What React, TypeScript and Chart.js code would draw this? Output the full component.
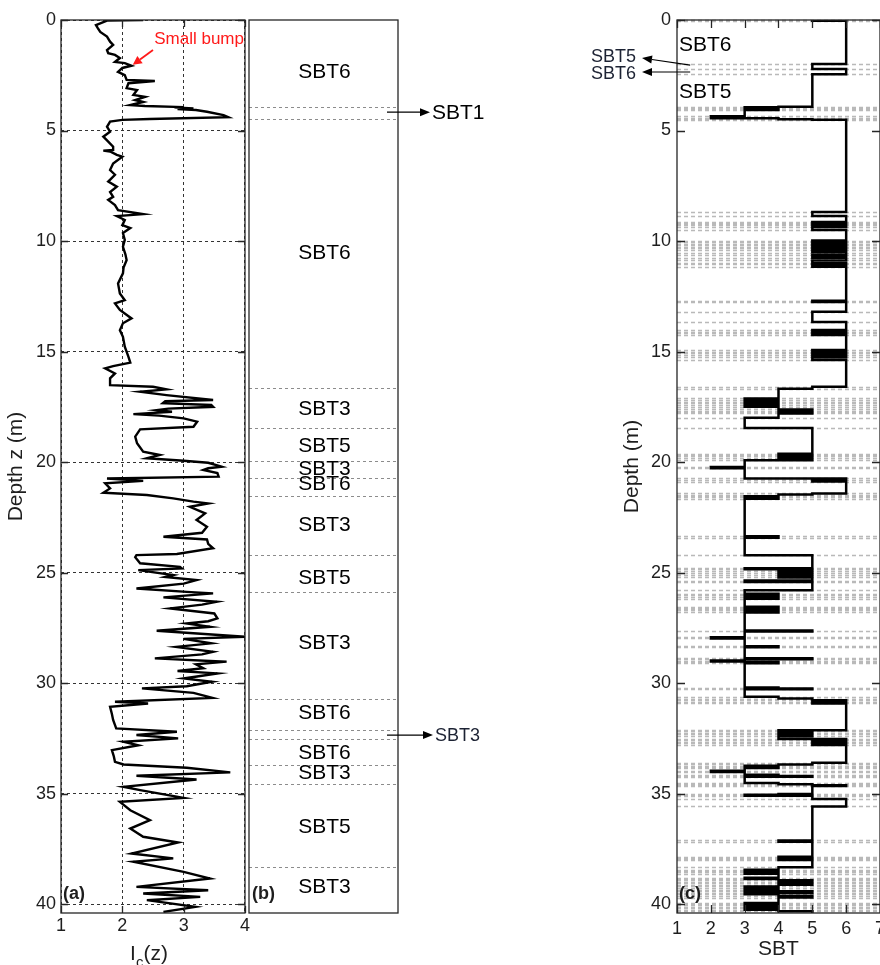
import React, { useEffect, useRef } from "react";
import { Chart, registerables } from "chart.js";

Chart.register(...registerables);

const FONT = "'Liberation Sans', Arial, Helvetica, sans-serif";
const DEPTH_MAX = 40.4;

// ---------- panel (a): Ic(z) profile ----------
const icDepth = [
  0.00, 0.03, 0.23, 0.37, 0.54, 0.75, 0.98, 1.13, 1.36, 1.50,
  1.58, 1.72, 1.90, 1.95, 2.07, 2.17, 2.35, 2.49, 2.71, 2.76,
  2.86, 3.08, 3.17, 3.39, 3.48, 3.62, 3.71, 3.85, 3.89, 3.94,
  3.96, 4.00, 4.03, 4.07, 4.15, 4.30, 4.40, 4.48, 4.52, 4.60,
  4.83, 5.05, 5.28, 5.50, 5.73, 5.88, 5.91, 5.95, 6.10, 6.18,
  6.49, 6.79, 7.00, 7.31, 7.54, 7.78, 8.00, 8.14, 8.37, 8.60,
  8.78, 8.87, 9.05, 9.28, 9.41, 9.64, 9.95, 10.26, 10.60, 10.86,
  11.20, 11.46, 11.92, 12.37, 12.67, 12.82, 13.12, 13.50, 13.72, 14.03,
  14.33, 14.78, 15.24, 15.50, 15.66, 15.76, 15.99, 16.21, 16.52, 16.59,
  16.71, 16.82, 16.97, 17.19, 17.25, 17.34, 17.42, 17.50, 17.58, 17.65,
  17.72, 17.83, 17.90, 18.02, 18.17, 18.40, 18.52, 18.85, 19.15, 19.53,
  19.68, 19.83, 19.94, 20.03, 20.21, 20.28, 20.36, 20.50, 20.66, 20.74,
  20.85, 20.96, 21.19, 21.39, 21.49, 21.64, 21.79, 21.87, 22.02, 22.32,
  22.62, 22.93, 23.20, 23.38, 23.50, 23.70, 23.90, 24.16, 24.21, 24.30,
  24.58, 24.74, 24.81, 24.89, 25.11, 25.20, 25.34, 25.50, 25.72, 25.87,
  25.94, 26.12, 26.32, 26.45, 26.62, 26.85, 27.07, 27.20, 27.30, 27.45,
  27.63, 27.90, 28.00, 28.20, 28.36, 28.58, 28.70, 28.88, 29.03, 29.15,
  29.33, 29.45, 29.56, 29.79, 29.94, 30.14, 30.24, 30.44, 30.67, 30.84,
  30.92, 31.07, 31.40, 31.67, 32.05, 32.20, 32.35, 32.50, 32.65, 32.81,
  33.03, 33.30, 33.56, 33.68, 33.83, 34.04, 34.19, 34.36, 34.69, 34.84,
  35.19, 35.37, 35.75, 36.20, 36.58, 36.95, 37.21, 37.71, 37.93, 38.08,
  38.54, 38.84, 39.22, 39.37, 39.52, 39.67, 39.82, 40.12, 40.35,
];
const icValue = [
  2.34, 1.75, 1.57, 1.60, 1.64, 1.75, 1.80, 1.85, 1.75, 1.77,
  1.88, 1.96, 1.88, 2.04, 2.15, 2.00, 1.93, 2.04, 2.07, 2.53,
  2.10, 2.07, 2.24, 2.18, 2.37, 2.21, 2.34, 2.13, 2.37, 3.00,
  2.85, 3.16, 2.90, 3.20, 3.38, 3.65, 3.73, 2.45, 2.00, 1.80,
  1.75, 1.80, 1.69, 1.77, 1.85, 1.85, 1.69, 1.80, 1.91, 2.00,
  1.85, 1.80, 1.88, 1.77, 1.91, 1.80, 1.85, 1.77, 1.88, 1.93,
  2.34, 1.91, 2.04, 2.00, 2.13, 2.01, 2.04, 2.01, 2.05, 2.07,
  2.02, 2.01, 1.93, 1.96, 2.04, 1.88, 1.96, 2.15, 2.01, 1.96,
  2.01, 2.04, 2.10, 2.13, 1.85, 1.72, 1.88, 1.80, 1.80, 2.50,
  2.72, 2.29, 2.72, 3.48, 2.70, 2.66, 3.45, 3.48, 2.75, 2.56,
  2.81, 2.18, 2.60, 3.00, 3.22, 3.16, 2.29, 2.21, 2.24, 2.34,
  2.61, 2.40, 3.00, 3.40, 3.62, 3.40, 3.32, 3.55, 3.57, 1.75,
  2.34, 1.72, 1.80, 1.69, 2.40, 2.83, 3.16, 3.40, 3.10, 3.35,
  3.21, 3.38, 3.30, 2.67, 3.38, 3.40, 3.48, 2.89, 2.23, 2.21,
  2.29, 2.94, 2.97, 2.26, 2.83, 2.70, 3.21, 3.00, 2.23, 3.05,
  3.48, 2.67, 3.54, 3.30, 2.78, 3.50, 3.55, 3.40, 3.05, 3.43,
  2.56, 4.00, 3.00, 3.45, 2.88, 3.48, 3.30, 2.53, 3.70, 3.20,
  3.32, 2.90, 3.55, 3.00, 3.46, 3.05, 2.32, 3.16, 3.47, 1.88,
  2.42, 1.80, 1.83, 1.85, 1.90, 2.89, 2.23, 2.91, 2.02, 2.26,
  1.83, 1.86, 1.88, 2.02, 3.05, 3.76, 2.23, 3.21, 2.02, 2.29,
  3.00, 1.96, 2.13, 2.45, 2.13, 2.34, 2.91, 2.15, 2.83, 2.18,
  3.00, 3.43, 2.23, 3.40, 2.34, 3.27, 2.40, 3.19, 2.67,
];
const icTicks = [1, 2, 3, 4];
const depthTicks = [0, 5, 10, 15, 20, 25, 30, 35, 40];

// ---------- panel (b): layers ----------
const layerBounds = [3.92, 4.48, 16.64, 18.48, 19.94, 20.74, 21.53, 24.21, 25.87, 30.74, 32.13, 32.53, 33.71, 34.58, 38.31];
const layerLabels = ["SBT6", "SBT6", "SBT3", "SBT5", "SBT3", "SBT6", "SBT3", "SBT5", "SBT3", "SBT6", "SBT6", "SBT3", "SBT5", "SBT3"];
const layerLabelDepth = [2.35, 10.54, 17.6, 19.3, 20.3, 21.0, 22.85, 25.25, 28.2, 31.36, 33.17, 34.07, 36.5, 39.23];

// ---------- panel (c): SBT step profile ----------
const sbtStart = [
  0.00, 0.03, 1.99, 2.22, 2.45, 3.92, 3.95, 3.98, 4.01, 4.04, 4.07, 4.36, 4.45, 4.49, 4.51,
  8.69, 8.87, 9.14, 9.19, 9.24, 9.29, 9.37, 9.50,
  9.98, 10.05, 10.12, 10.19, 10.26, 10.33, 10.40, 10.52, 10.64, 10.76, 10.88, 11.00, 11.06, 11.16,
  12.70, 12.76, 13.20, 13.66, 14.03, 14.10, 14.17, 14.25, 14.93, 15.00, 15.06, 15.14, 15.26, 15.38,
  16.59, 16.68, 17.12, 17.17, 17.27, 17.32, 17.42, 17.50, 17.62, 17.68, 17.74, 17.80, 18.00, 18.46,
  19.62, 19.68, 19.74, 19.80, 19.92, 20.22, 20.28, 20.74, 20.82, 20.88, 21.42, 21.47, 21.55, 21.60, 21.66,
  23.36, 23.42, 24.21, 24.80, 24.85, 24.95, 25.02, 25.12, 25.22, 25.36, 25.42, 25.80, 25.96, 26.02, 26.12, 26.18,
  26.55, 26.60, 26.65, 26.70, 26.76, 26.80, 27.62, 27.66, 27.93, 27.98, 28.33, 28.38, 28.88, 28.92, 28.98, 29.02, 29.05, 29.10,
  30.20, 30.24, 30.28, 30.62, 30.70, 30.78, 30.84, 30.92, 32.13, 32.18, 32.25, 32.32, 32.40, 32.53, 32.58, 32.65, 32.72, 32.80,
  33.60, 33.68, 33.74, 33.78, 33.84, 33.96, 34.02, 34.15, 34.20, 34.24, 34.52, 34.58, 34.62, 34.66, 35.02, 35.05, 35.10, 35.24, 35.58,
  37.12, 37.18, 37.85, 37.90, 37.95, 38.00, 38.33, 38.44, 38.50, 38.55, 38.62, 38.80, 38.86, 38.92, 38.98, 39.04, 39.12, 39.20, 39.28, 39.34, 39.42, 39.48, 39.55, 39.62, 39.70,
  39.95, 40.00, 40.05, 40.12, 40.18, 40.25, 40.32,
];
const sbtClass = [
  5, 6, 5, 6, 5, 4, 3, 4, 3, 4, 3, 2, 4, 5, 6,
  5, 6, 5, 6, 5, 6, 5, 6,
  5, 6, 5, 6, 5, 6, 5, 6, 5, 6, 5, 6, 5, 6,
  5, 6, 5, 6, 5, 6, 5, 6, 5, 6, 5, 6, 5, 6,
  5, 4, 3, 4, 3, 4, 3, 4, 5, 4, 5, 4, 3, 5,
  4, 5, 4, 5, 3, 2, 3, 6, 5, 6, 5, 4, 3, 4, 3,
  4, 3, 5, 3, 5, 4, 5, 4, 5, 3, 5, 3, 4, 3, 4, 3,
  4, 3, 4, 3, 4, 3, 5, 3, 2, 3, 4, 3, 5, 3, 2, 3, 4, 3,
  4, 5, 3, 4, 5, 6, 5, 6, 4, 5, 4, 5, 4, 6, 5, 6, 5, 6,
  5, 4, 3, 4, 3, 2, 3, 4, 5, 3, 4, 5, 6, 5, 4, 3, 5, 6, 5,
  4, 5, 4, 5, 4, 5, 4, 3, 4, 3, 4, 3, 4, 5, 4, 5, 4, 3, 4, 3, 5, 3, 4, 5, 4,
  3, 4, 3, 4, 3, 4, 5,
];
const sbtTicks = [1, 2, 3, 4, 5, 6, 7];

// ---------- helpers ----------
const TXT = "#1e1e1e";

function drawArrow(ctx: CanvasRenderingContext2D, x1: number, y1: number, x2: number, y2: number, color: string, lw: number, head: number, half: number) {
  const ang = Math.atan2(y2 - y1, x2 - x1);
  const bx = x2 - head * Math.cos(ang);
  const by = y2 - head * Math.sin(ang);
  ctx.save();
  ctx.setLineDash([]);
  ctx.strokeStyle = color;
  ctx.fillStyle = color;
  ctx.lineWidth = lw;
  ctx.beginPath();
  ctx.moveTo(x1, y1);
  ctx.lineTo(bx, by);
  ctx.stroke();
  ctx.beginPath();
  ctx.moveTo(x2, y2);
  ctx.lineTo(bx + half * Math.sin(ang), by - half * Math.cos(ang));
  ctx.lineTo(bx - half * Math.sin(ang), by + half * Math.cos(ang));
  ctx.closePath();
  ctx.fill();
  ctx.restore();
}

function framePlugin(tickLen: number) {
  return {
    id: "frame",
    afterDatasetsDraw(chart: any) {
      const { ctx, chartArea: a, scales } = chart;
      ctx.save();
      ctx.setLineDash([]);
      ctx.strokeStyle = "#262626";
      ctx.lineWidth = 1.3;
      if (tickLen > 0) {
        ctx.beginPath();
        scales.x.ticks.forEach((t: any) => {
          const px = Math.round(scales.x.getPixelForValue(t.value)) + 0.5;
          ctx.moveTo(px, a.bottom);
          ctx.lineTo(px, a.bottom - tickLen);
          ctx.moveTo(px, a.top);
          ctx.lineTo(px, a.top + tickLen);
        });
        scales.y.ticks.forEach((t: any) => {
          const py = Math.round(scales.y.getPixelForValue(t.value)) + 0.5;
          ctx.moveTo(a.left, py);
          ctx.lineTo(a.left + tickLen, py);
          ctx.moveTo(a.right, py);
          ctx.lineTo(a.right - tickLen, py);
        });
        ctx.stroke();
      }
      ctx.strokeRect(a.left, a.top, a.right - a.left, a.bottom - a.top);
      ctx.restore();
    },
  };
}

const tickFont = { family: FONT, size: 18 };
const titleFont = { family: FONT, size: 21 };

export default function App() {
  const refA = useRef<HTMLCanvasElement | null>(null);
  const refB = useRef<HTMLCanvasElement | null>(null);
  const refC = useRef<HTMLCanvasElement | null>(null);

  useEffect(() => {
    Chart.defaults.font.family = FONT;
    const charts: Chart[] = [];

    // ---------- (a) ----------
    const annotA = {
      id: "annotA",
      afterDraw(chart: any) {
        const { ctx, chartArea: a, scales } = chart;
        const xs = scales.x, ys = scales.y;
        ctx.save();
        ctx.fillStyle = "#ff1a1a";
        ctx.font = `17px ${FONT}`;
        ctx.textAlign = "left";
        ctx.textBaseline = "middle";
        ctx.fillText("Small bump", xs.getPixelForValue(2.52), ys.getPixelForValue(0.86));
        drawArrow(ctx, xs.getPixelForValue(2.5), ys.getPixelForValue(1.36), xs.getPixelForValue(2.17), ys.getPixelForValue(2.03), "#ff1a1a", 1.8, 9, 4.5);
        ctx.fillStyle = TXT;
        ctx.font = `bold 18px ${FONT}`;
        ctx.textBaseline = "alphabetic";
        ctx.fillText("(a)", a.left + 2, 899);
        const big = `21px ${FONT}`;
        const small = `15px ${FONT}`;
        ctx.font = big;
        const wI = ctx.measureText("I").width;
        const wz = ctx.measureText("(z)").width;
        ctx.font = small;
        const wc = ctx.measureText("c").width;
        let x = (a.left + a.right) / 2 - 4 - (wI + wc + wz) / 2;
        ctx.font = big;
        ctx.fillText("I", x, 960);
        x += wI;
        ctx.font = small;
        ctx.fillText("c", x, 967);
        x += wc;
        ctx.font = big;
        ctx.fillText("(z)", x, 960);
        ctx.restore();
      },
    };

    if (refA.current) {
      charts.push(
        new Chart(refA.current, {
          type: "scatter",
          data: {
            datasets: [
              {
                data: icDepth.map((d, i) => ({ x: icValue[i], y: d })),
                showLine: true,
                borderColor: "#000",
                borderWidth: 2.4,
                pointRadius: 0,
                tension: 0,
                fill: false,
              } as any,
            ],
          },
          options: {
            animation: false,
            responsive: false,
            maintainAspectRatio: false,
            layout: { padding: { left: 0, right: 7, top: 20, bottom: 0 } },
            plugins: { legend: { display: false }, tooltip: { enabled: false } },
            scales: {
              x: {
                type: "linear",
                position: "bottom",
                min: 1,
                max: 4,
                afterBuildTicks: (s: any) => {
                  s.ticks = icTicks.map((value) => ({ value }));
                },
                afterFit: (s: any) => {
                  s.height = 52;
                },
                grid: { color: "#333", lineWidth: 1, drawTicks: false },
                border: { display: false, dash: [3, 3] },
                ticks: { font: tickFont, color: TXT, padding: 2, maxRotation: 0, autoSkip: false },
              },
              y: {
                type: "linear",
                reverse: true,
                min: 0,
                max: DEPTH_MAX,
                afterBuildTicks: (s: any) => {
                  s.ticks = depthTicks.map((value) => ({ value }));
                },
                afterFit: (s: any) => {
                  s.width = 61;
                },
                grid: { color: "#333", lineWidth: 1, drawTicks: false },
                border: { display: false, dash: [3, 3] },
                ticks: { font: tickFont, color: TXT, padding: 5, autoSkip: false },
                title: { display: true, text: "Depth z (m)", font: titleFont, color: TXT, padding: { top: 4, bottom: 0 } },
              },
            },
          } as any,
          plugins: [framePlugin(7), annotA],
        })
      );
    }

    // ---------- (b) ----------
    const annotB = {
      id: "annotB",
      beforeDatasetsDraw(chart: any) {
        const { ctx, chartArea: a, scales } = chart;
        ctx.save();
        ctx.strokeStyle = "#8c8c8c";
        ctx.lineWidth = 1;
        ctx.setLineDash([3, 3]);
        ctx.beginPath();
        layerBounds.forEach((d) => {
          const y = Math.round(scales.y.getPixelForValue(d)) + 0.5;
          ctx.moveTo(a.left, y);
          ctx.lineTo(a.right, y);
        });
        ctx.stroke();
        ctx.restore();
      },
      afterDraw(chart: any) {
        const { ctx, chartArea: a, scales } = chart;
        ctx.save();
        ctx.fillStyle = "#000";
        ctx.font = `21px ${FONT}`;
        ctx.textAlign = "center";
        ctx.textBaseline = "middle";
        const cx = (a.left + a.right) / 2 + 1;
        layerLabels.forEach((lab, i) => {
          ctx.fillText(lab, cx, scales.y.getPixelForValue(layerLabelDepth[i]));
        });
        const y1 = scales.y.getPixelForValue(4.17);
        drawArrow(ctx, a.right - 11, y1, a.right + 32, y1, "#000", 1.2, 10, 4);
        ctx.textAlign = "left";
        ctx.font = `21px ${FONT}`;
        ctx.fillText("SBT1", a.right + 34, y1 + 1);
        const y3 = scales.y.getPixelForValue(32.35);
        drawArrow(ctx, a.right - 11, y3, a.right + 35, y3, "#000", 1.2, 10, 4);
        ctx.font = `18px ${FONT}`;
        ctx.fillStyle = "#1c2233";
        ctx.fillText("SBT3", a.right + 37, y3 + 1);
        ctx.fillStyle = TXT;
        ctx.font = `bold 18px ${FONT}`;
        ctx.textBaseline = "alphabetic";
        ctx.fillText("(b)", a.left + 3, 899);
        ctx.restore();
      },
    };

    if (refB.current) {
      charts.push(
        new Chart(refB.current, {
          type: "scatter",
          data: { datasets: [] },
          options: {
            animation: false,
            responsive: false,
            maintainAspectRatio: false,
            layout: { padding: { left: 5, right: 96, top: 20, bottom: 52 } },
            plugins: { legend: { display: false }, tooltip: { enabled: false } },
            scales: {
              x: { type: "linear", display: false, min: 0, max: 1 },
              y: { type: "linear", display: false, reverse: true, min: 0, max: DEPTH_MAX },
            },
          } as any,
          plugins: [annotB, framePlugin(0)],
        })
      );
    }

    // ---------- (c) ----------
    const stepPoints: { x: number; y: number }[] = [];
    sbtStart.forEach((d, i) => {
      const end = i + 1 < sbtStart.length ? sbtStart[i + 1] : DEPTH_MAX;
      stepPoints.push({ x: sbtClass[i], y: d });
      stepPoints.push({ x: sbtClass[i], y: end });
    });

    const annotC = {
      id: "annotC",
      beforeDatasetsDraw(chart: any) {
        const { ctx, chartArea: a, scales } = chart;
        ctx.save();
        ctx.strokeStyle = "#b9b9b9";
        ctx.lineWidth = 1.6;
        ctx.setLineDash([4, 3]);
        ctx.beginPath();
        sbtStart.forEach((d) => {
          const y = Math.round(scales.y.getPixelForValue(d)) + 0.5;
          ctx.moveTo(a.left, y);
          ctx.lineTo(a.right, y);
        });
        ctx.stroke();
        ctx.restore();
      },
      afterDraw(chart: any) {
        const { ctx, chartArea: a, scales } = chart;
        const xs = scales.x, ys = scales.y;
        ctx.save();
        ctx.fillStyle = "#000";
        ctx.font = `21px ${FONT}`;
        ctx.textAlign = "left";
        ctx.textBaseline = "middle";
        ctx.fillText("SBT6", a.left + 2, ys.getPixelForValue(1.15));
        ctx.fillText("SBT5", a.left + 2, ys.getPixelForValue(3.28));
        drawArrow(ctx, xs.getPixelForValue(1.39), ys.getPixelForValue(2.04), a.left - 35, ys.getPixelForValue(1.72), "#000", 1.1, 10, 4);
        drawArrow(ctx, xs.getPixelForValue(1.39), ys.getPixelForValue(2.35), a.left - 35, ys.getPixelForValue(2.35), "#000", 1.1, 10, 4);
        ctx.fillStyle = "#1c2233";
        ctx.font = `18px ${FONT}`;
        ctx.textAlign = "right";
        ctx.fillText("SBT5", a.left - 41, ys.getPixelForValue(1.67));
        ctx.fillText("SBT6", a.left - 41, ys.getPixelForValue(2.46));
        ctx.fillStyle = TXT;
        ctx.font = `bold 18px ${FONT}`;
        ctx.textAlign = "left";
        ctx.textBaseline = "alphabetic";
        ctx.fillText("(c)", a.left + 2, 899);
        ctx.restore();
      },
    };

    if (refC.current) {
      charts.push(
        new Chart(refC.current, {
          type: "scatter",
          data: {
            datasets: [
              {
                data: stepPoints,
                showLine: true,
                borderColor: "#000",
                borderWidth: 2.5,
                pointRadius: 0,
                tension: 0,
                fill: false,
              } as any,
            ],
          },
          options: {
            animation: false,
            responsive: false,
            maintainAspectRatio: false,
            layout: { padding: { left: 38, right: 9.5, top: 20, bottom: 0 } },
            plugins: { legend: { display: false }, tooltip: { enabled: false } },
            scales: {
              x: {
                type: "linear",
                position: "bottom",
                min: 1,
                max: 7,
                afterBuildTicks: (s: any) => {
                  s.ticks = sbtTicks.map((value) => ({ value }));
                },
                afterFit: (s: any) => {
                  s.height = 52;
                },
                grid: { display: false, drawTicks: false },
                border: { display: false },
                ticks: { font: tickFont, color: TXT, padding: 5, maxRotation: 0, autoSkip: false },
                title: { display: true, text: "SBT", font: titleFont, color: TXT, padding: { top: 0, bottom: 3 } },
              },
              y: {
                type: "linear",
                reverse: true,
                min: 0,
                max: DEPTH_MAX,
                afterBuildTicks: (s: any) => {
                  s.ticks = depthTicks.map((value) => ({ value }));
                },
                afterFit: (s: any) => {
                  s.width = 59;
                },
                grid: { display: false, drawTicks: false },
                border: { display: false },
                ticks: { font: tickFont, color: TXT, padding: 6, autoSkip: false },
                title: { display: true, text: "Depth (m)", font: titleFont, color: TXT, padding: { top: 2, bottom: 0 } },
              },
            },
          } as any,
          plugins: [annotC, framePlugin(8)],
        })
      );
    }

    return () => {
      charts.forEach((c) => c.destroy());
    };
  }, []);

  return (
    <div style={{ position: "fixed", left: 0, top: 0, width: 880, height: 965, overflow: "hidden", background: "#fff" }}>
      <canvas ref={refA} width={252} height={965} style={{ position: "absolute", left: 0, top: 0, width: 252, height: 965 }} />
      <canvas ref={refB} width={250} height={965} style={{ position: "absolute", left: 244, top: 0, width: 250, height: 965 }} />
      <canvas ref={refC} width={310} height={965} style={{ position: "absolute", left: 580, top: 0, width: 310, height: 965 }} />
    </div>
  );
}
